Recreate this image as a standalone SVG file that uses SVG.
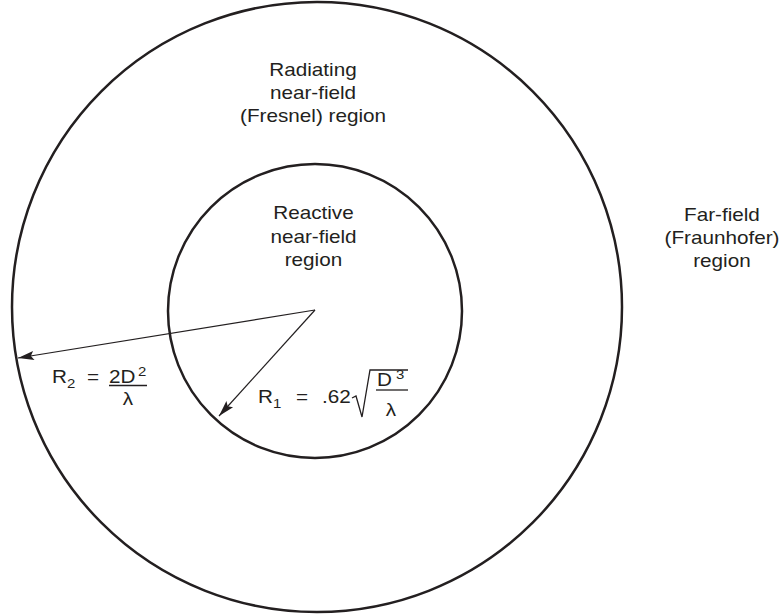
<svg xmlns="http://www.w3.org/2000/svg" width="781" height="615" viewBox="0 0 781 615">
  <style>
    .ring { fill: none; stroke: #231f20; stroke-width: 2.5; }
    .conn { fill: none; stroke: #231f20; stroke-width: 1.2; }
    .rule { fill: none; stroke: #231f20; stroke-width: 1.3; }
    text { font-family: "Liberation Sans", Arial, Helvetica, sans-serif; fill: #231f20; font-size: 18px; }
    .mid { text-anchor: middle; }
    .small { font-size: 13px; }
  </style>
  <defs>
    <marker id="arrow" markerUnits="userSpaceOnUse" viewBox="-17 -5 18 10" refX="0" refY="0" markerWidth="18" markerHeight="10" orient="auto">
      <path d="M0,0 L-16,-4.5 L-13,0 L-16,4.5 Z" fill="#231f20"/>
    </marker>
  </defs>

  <g id="far-field">
    <g transform="scale(1.15 1)">
      <text class="mid" x="627.8" y="221">Far-field</text>
      <text class="mid" x="627.8" y="244">(Fraunhofer)</text>
      <text class="mid" x="627.8" y="267">region</text>
    </g>
  </g>

  <g id="radiating-near-field">
    <circle class="ring" cx="317" cy="307" r="305"/>
    <g transform="scale(1.15 1)">
      <text class="mid" x="272.2" y="76">Radiating</text>
      <text class="mid" x="272.2" y="99">near-field</text>
      <text class="mid" x="272.2" y="122">(Fresnel) region</text>
    </g>
  </g>

  <g id="reactive-near-field">
    <circle class="ring" cx="315" cy="311" r="147"/>
    <g transform="scale(1.15 1)">
      <text class="mid" x="272.6" y="219">Reactive</text>
      <text class="mid" x="272.6" y="243">near-field</text>
      <text class="mid" x="272.6" y="266">region</text>
    </g>
  </g>

  <g id="connectors">
    <line class="conn" x1="315" y1="310" x2="18" y2="358" marker-end="url(#arrow)"/>
    <line class="conn" x1="315" y1="310" x2="219" y2="416" marker-end="url(#arrow)"/>
  </g>

  <g id="formula-r2">
    <g transform="scale(1.15 1)">
      <text x="45.2" y="383">R</text>
      <text class="small" x="58.3" y="388">2</text>
      <text class="mid" x="80.9" y="383">=</text>
      <text x="94.8" y="383">2D</text>
      <text class="small" x="120" y="376">2</text>
      <text class="mid" x="111.3" y="405">λ</text>
    </g>
    <line class="rule" x1="109" y1="385.5" x2="147" y2="385.5"/>
  </g>

  <g id="formula-r1">
    <g transform="scale(1.15 1)">
      <text x="224.3" y="403">R</text>
      <text class="small" x="237.4" y="408">1</text>
      <text class="mid" x="262.6" y="403">=</text>
      <text x="280" y="403">.62</text>
      <text x="327.8" y="386">D</text>
      <text class="small" x="344.3" y="379">3</text>
      <text class="mid" x="340" y="416">λ</text>
    </g>
    <path class="rule" d="M352,398 L356,396 L362,417 L370,370 L408,370"/>
    <line class="rule" x1="376" y1="390" x2="408" y2="390"/>
  </g>
</svg>
